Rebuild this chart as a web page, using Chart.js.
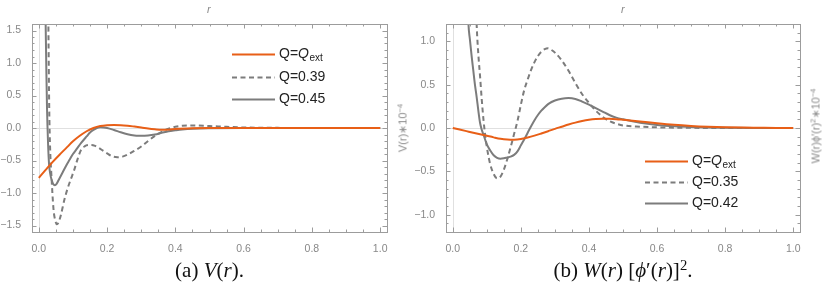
<!DOCTYPE html>
<html>
<head>
<meta charset="utf-8">
<script src="https://cdn.jsdelivr.net/npm/chart.js@4/dist/chart.umd.min.js"></script>
<style>
  html,body{margin:0;padding:0;background:#fff;}
  body{width:830px;height:292px;overflow:hidden;position:relative;font-family:"Liberation Sans",Arial,sans-serif;}
  canvas{position:absolute;top:0;}
  .cap{position:absolute;top:258px;font-family:"Liberation Serif","DejaVu Serif",serif;font-size:21px;line-height:24px;color:#111;white-space:nowrap;text-align:center;}
  .cap i{font-style:italic;}
  .ttl{position:absolute;font-size:11px;color:#8a8a8a;white-space:nowrap;}
  .rot{transform:translate(-50%,-50%) rotate(-90deg);}
  sup{font-size:70%;vertical-align:0.5em;line-height:0;}
</style>
</head>
<body>
<canvas id="ca" width="415" height="292" style="left:0"></canvas>
<canvas id="cb" width="415" height="292" style="left:415px"></canvas>

<div class="ttl" style="left:207px;top:3px;font-style:italic">r</div>
<div class="ttl" style="left:621px;top:3px;font-style:italic">r</div>
<div class="ttl rot" style="left:403px;top:128px">V(r)∗10<sup>−4</sup></div>
<div class="ttl rot" style="left:816px;top:126px">W(r)ϕ′(r)<sup>2</sup>∗10<sup>−4</sup></div>

<div class="cap" style="left:32px;width:355px">(a) <i>V</i>(<i>r</i>).</div>
<div class="cap" style="left:446px;width:354px">(b) <i>W</i>(<i>r</i>) [<i>ϕ</i>′(<i>r</i>)]<sup>2</sup>.</div>

<script>
// ---------- data: panel (a) V(r) ----------
const vExtR = [0,0.02,0.04,0.06,0.08,0.10,0.12,0.14,0.16,0.18,0.20,0.22,0.24,0.26,0.28,0.30,0.32,0.34,0.36,0.38,0.40,0.45,0.50,0.60,0.70,0.80,0.90,1.00];
const vExtV = [-0.767,-0.645,-0.525,-0.415,-0.31,-0.205,-0.12,-0.05,0.0,0.03,0.043,0.047,0.044,0.035,0.022,0.008,-0.008,-0.02,-0.028,-0.025,-0.015,-0.004,0,0,0,0,0,0];

const v039R = [0.026,0.028,0.0305,0.033,0.037,0.043,0.048,0.053,0.058,0.065,0.075,0.085,0.095,0.104,0.114,0.124,0.135,0.145,0.153,0.165,0.18,0.20,0.215,0.23,0.245,0.26,0.28,0.30,0.32,0.34,0.36,0.38,0.40,0.42,0.45,0.50,0.55,0.60,0.70,0.80,0.90,1.00];
const v039V = [3.0,1.6,0.3,-0.3,-0.74,-1.25,-1.42,-1.48,-1.45,-1.33,-1.1,-0.92,-0.77,-0.64,-0.47,-0.335,-0.28,-0.262,-0.26,-0.275,-0.32,-0.39,-0.435,-0.45,-0.44,-0.41,-0.35,-0.285,-0.2,-0.12,-0.06,-0.01,0.02,0.035,0.04,0.03,0.018,0.008,0.002,0,0,0];

const v045R = [0.016,0.02,0.022,0.024,0.027,0.03,0.034,0.037,0.042,0.047,0.052,0.06,0.07,0.08,0.09,0.10,0.11,0.124,0.14,0.15,0.16,0.17,0.18,0.19,0.20,0.22,0.24,0.26,0.28,0.29,0.30,0.32,0.34,0.36,0.38,0.40,0.42,0.45,0.50,0.60,0.70,0.80,0.90,1.00];
const v045V = [3.0,1.6,0.9,0.3,-0.23,-0.56,-0.72,-0.79,-0.86,-0.88,-0.86,-0.78,-0.68,-0.58,-0.49,-0.4,-0.33,-0.23,-0.13,-0.07,-0.03,0.0,0.01,0.008,0.0,-0.03,-0.065,-0.095,-0.115,-0.12,-0.12,-0.115,-0.1,-0.075,-0.05,-0.035,-0.022,-0.01,-0.003,0,0,0,0,0];

// ---------- data: panel (b) W(r)[phi'(r)]^2 ----------
const wExtR = [0,0.02,0.04,0.06,0.08,0.10,0.12,0.14,0.16,0.18,0.20,0.22,0.24,0.26,0.28,0.30,0.32,0.34,0.36,0.38,0.40,0.42,0.44,0.46,0.48,0.50,0.55,0.60,0.65,0.70,0.75,0.80,0.85,0.90,0.95,1.00];
const wExtV = [0,-0.018,-0.036,-0.054,-0.072,-0.09,-0.108,-0.124,-0.133,-0.135,-0.128,-0.11,-0.088,-0.063,-0.037,-0.01,0.015,0.04,0.062,0.08,0.094,0.103,0.107,0.106,0.102,0.095,0.076,0.055,0.037,0.024,0.015,0.009,0.005,0.003,0.001,0];

const w035R = [0.064,0.07,0.075,0.08,0.085,0.09,0.095,0.10,0.105,0.11,0.12,0.13,0.14,0.15,0.16,0.17,0.18,0.19,0.20,0.21,0.22,0.23,0.24,0.25,0.26,0.27,0.28,0.29,0.30,0.32,0.34,0.36,0.38,0.40,0.42,0.44,0.46,0.48,0.50,0.55,0.60,0.70,0.80,0.90,1.00];
const w035V = [2.0,1.2,0.85,0.6,0.33,0.1,-0.08,-0.22,-0.33,-0.42,-0.53,-0.58,-0.56,-0.48,-0.36,-0.22,-0.07,0.08,0.27,0.44,0.56,0.67,0.76,0.83,0.88,0.91,0.92,0.9,0.87,0.78,0.66,0.52,0.39,0.29,0.2,0.13,0.08,0.05,0.03,0.015,0.008,0.002,0,0,0];

const w042R = [0.04,0.046,0.05,0.055,0.06,0.065,0.07,0.075,0.08,0.085,0.09,0.10,0.11,0.12,0.13,0.14,0.15,0.16,0.17,0.18,0.19,0.20,0.21,0.22,0.23,0.24,0.25,0.26,0.27,0.28,0.29,0.30,0.32,0.34,0.36,0.38,0.40,0.42,0.44,0.46,0.48,0.50,0.55,0.60,0.65,0.70,0.80,0.90,1.00];
const w042V = [2.0,1.2,1.03,0.84,0.67,0.5,0.36,0.2,0.06,-0.02,-0.075,-0.19,-0.26,-0.315,-0.345,-0.355,-0.35,-0.34,-0.33,-0.31,-0.27,-0.2,-0.13,-0.055,0.02,0.09,0.15,0.2,0.24,0.275,0.3,0.318,0.338,0.345,0.335,0.305,0.27,0.23,0.19,0.15,0.12,0.1,0.06,0.035,0.02,0.012,0.004,0.001,0];

// ---------- labels / ticks ----------
const labelsA = ['Q=Q_ext','Q=0.39','Q=0.45'];
const labelsB = ['Q=Q_ext','Q=0.35','Q=0.42'];
const xTicks  = [0,0.2,0.4,0.6,0.8,1.0];
const yTicksA = [-1.5,-1.0,-0.5,0,0.5,1.0,1.5];
const yTicksB = [-1.0,-0.5,0,0.5,1.0];

// ---------- styling ----------
const ORANGE = '#e85f17';
const GREY = '#7c7c7c';
const TICKCOL = '#888888';
const FRAME = '#9c9c9c';
const DASH = [5, 3.5];

function pts(xs, ys){ return xs.map((x,i)=>({x:x, y:ys[i]})); }
function fmt(v){ const s = Number(v).toFixed(1); return v < 0 ? '\u2212' + s.slice(1) : s; }

function drawLabel(ctx, text, x, y){
  const base = '14px "Liberation Sans", Arial, sans-serif';
  ctx.fillStyle = '#222';
  ctx.textBaseline = 'middle';
  ctx.textAlign = 'left';
  const parts = text.split('_');
  const main = parts[0];
  let cx = x;
  const eq = main.indexOf('=');
  const first = main.slice(0, eq+1);
  const rest = main.slice(eq+1);
  ctx.font = base;
  ctx.fillText(first, cx, y); cx += ctx.measureText(first).width;
  if (parts.length > 1) {
    ctx.font = 'italic ' + base;
    ctx.fillText(rest, cx, y); cx += ctx.measureText(rest).width;
    ctx.font = '10px "Liberation Sans", Arial, sans-serif';
    ctx.fillText(parts[1], cx + 0.5, y + 3.5);
  } else {
    ctx.fillText(rest, cx, y);
  }
}

const framePlugin = {
  id: 'mframe',
  beforeDatasetsDraw(chart){
    const {ctx, chartArea:a, scales:{x, y}} = chart;
    ctx.save();
    ctx.strokeStyle = '#e0e0e0';
    ctx.lineWidth = 1;
    const x0 = Math.round(x.getPixelForValue(0)) + 0.5;
    const y0 = Math.round(y.getPixelForValue(0)) + 0.5;
    ctx.beginPath();
    ctx.moveTo(x0, a.top); ctx.lineTo(x0, a.bottom);
    ctx.moveTo(a.left, y0); ctx.lineTo(a.right, y0);
    ctx.stroke();
    ctx.restore();
  },
  afterDatasetsDraw(chart, args, opts){
    const {ctx, chartArea:a, scales:{x, y}} = chart;
    ctx.save();
    ctx.strokeStyle = FRAME;
    ctx.lineWidth = 1;
    ctx.strokeRect(Math.round(a.left)+0.5, Math.round(a.top)+0.5, Math.round(a.right-a.left), Math.round(a.bottom-a.top));
    ctx.beginPath();
    for (let i = 0; i <= 20; i++) {
      const v = i * 0.05;
      const len = (i % 4 === 0) ? 4.5 : 2.5;
      const px = Math.round(x.getPixelForValue(v)) + 0.5;
      ctx.moveTo(px, a.bottom); ctx.lineTo(px, a.bottom - len);
      ctx.moveTo(px, a.top); ctx.lineTo(px, a.top + len);
    }
    const lim = Math.floor(y.max * 10 + 1e-6);
    for (let k = -lim; k <= lim; k++) {
      const v = k / 10;
      const len = (k % 5 === 0) ? 4.5 : 2.5;
      const py = Math.round(y.getPixelForValue(v)) + 0.5;
      ctx.moveTo(a.left, py); ctx.lineTo(a.left + len, py);
      ctx.moveTo(a.right, py); ctx.lineTo(a.right - len, py);
    }
    ctx.stroke();

    // legend
    const ds = chart.data.datasets;
    const lx = a.left + opts.dx, len = 43;
    ds.forEach((d, i) => {
      const ly = Math.round(a.top + opts.dy + i * opts.gap) + 0.5;
      ctx.strokeStyle = d.borderColor;
      ctx.lineWidth = d.borderWidth;
      ctx.setLineDash(d.borderDash || []);
      ctx.beginPath(); ctx.moveTo(lx, ly); ctx.lineTo(lx + len, ly); ctx.stroke();
      ctx.setLineDash([]);
      drawLabel(ctx, d.label, lx + len + 4, ly);
    });
    ctx.restore();
  }
};

function series(labels, r1, v1, r2, v2, r3, v3){
  return [
    {label: labels[0], data: pts(r1, v1), borderColor: ORANGE, borderWidth: 2},
    {label: labels[1], data: pts(r2, v2), borderColor: GREY, borderWidth: 2, borderDash: DASH},
    {label: labels[2], data: pts(r3, v3), borderColor: GREY, borderWidth: 2}
  ];
}

function makeChart(id, datasets, yLim, yTicks, pad, yw, leg){
  return new Chart(document.getElementById(id), {
    type: 'line',
    data: {datasets},
    plugins: [framePlugin],
    options: {
      responsive: false,
      animation: false,
      devicePixelRatio: 1,
      layout: {padding: pad},
      elements: {point: {radius: 0}, line: {cubicInterpolationMode: 'monotone', borderCapStyle: 'butt'}},
      plugins: {legend: {display: false}, tooltip: {enabled: false}, mframe: leg},
      scales: {
        x: {
          type: 'linear', min: -0.02, max: 1.02,
          afterBuildTicks: s => { s.ticks = xTicks.map(v => ({value: v})); },
          afterFit: s => { s.height = 20; },
          grid: {display: false}, border: {display: false},
          ticks: {color: TICKCOL, padding: 3, maxRotation: 0, autoSkip: false,
                  font: {family: '"Liberation Sans", Arial, sans-serif', size: 10.5},
                  callback: v => fmt(v)}
        },
        y: {
          type: 'linear', min: -yLim, max: yLim,
          afterBuildTicks: s => { s.ticks = yTicks.map(v => ({value: v})); },
          afterFit: s => { s.width = yw; },
          grid: {display: false}, border: {display: false},
          ticks: {color: TICKCOL, padding: 3, autoSkip: false,
                  font: {family: '"Liberation Sans", Arial, sans-serif', size: 10.5},
                  callback: v => fmt(v)}
        }
      }
    }
  });
}

makeChart('ca', series(labelsA, vExtR, vExtV, v039R, v039V, v045R, v045V), 1.6, yTicksA,
          {left: 0, right: 28, top: 24, bottom: 40}, 32, {dx: 200, dy: 30, gap: 22.5});
makeChart('cb', series(labelsB, wExtR, wExtV, w035R, w035V, w042R, w042V), 1.2, yTicksB,
          {left: 0, right: 30, top: 24, bottom: 40}, 31, {dx: 199, dy: 137, gap: 21});
</script>
</body>
</html>
